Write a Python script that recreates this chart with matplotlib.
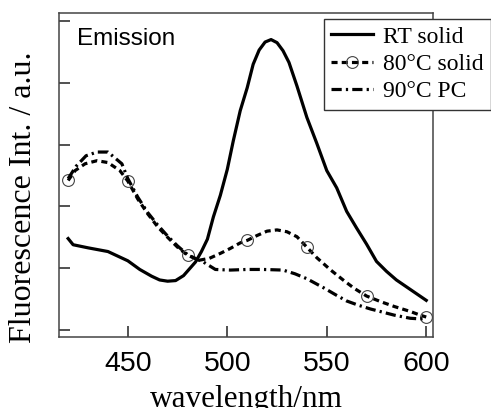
import matplotlib
matplotlib.use("Agg")
import matplotlib.pyplot as plt
import numpy as np

# --- data ---
x_rt = [420, 422.5, 430, 440, 450, 456, 462, 466, 470, 474, 478, 481, 484, 487, 490, 493,
        496.5, 500, 503, 506.5, 510, 513, 516, 519, 522, 525, 528, 531, 535, 540, 545, 550,
        555, 560, 565, 570, 575, 580, 585, 590, 595, 600]
y_rt = [1.48, 1.38, 1.33, 1.27, 1.12, 0.98, 0.87, 0.81, 0.79, 0.80, 0.88, 0.99, 1.10, 1.27,
        1.47, 1.83, 2.18, 2.60, 3.06, 3.55, 3.92, 4.30, 4.53, 4.66, 4.70, 4.65, 4.52, 4.33,
        3.95, 3.44, 3.02, 2.58, 2.30, 1.92, 1.65, 1.39, 1.11, 0.95, 0.81, 0.70, 0.59, 0.48]

x_80 = [420, 423.5, 428.5, 434.5, 440, 446, 450, 455, 460, 465, 470, 475, 480, 486, 491,
        496.5, 501.5, 506.5, 510, 515, 520, 525, 530, 535, 540, 545, 552, 559, 564, 570,
        577, 584, 592, 597, 600]
y_80 = [2.42, 2.58, 2.69, 2.74, 2.71, 2.58, 2.41, 2.12, 1.88, 1.67, 1.50, 1.34, 1.21, 1.13,
        1.16, 1.24, 1.32, 1.41, 1.45, 1.53, 1.60, 1.62, 1.59, 1.51, 1.34, 1.17, 0.97, 0.79,
        0.67, 0.55, 0.46, 0.38, 0.30, 0.24, 0.21]
mark_80 = [420, 450, 480, 510, 540, 570, 600]

x_90 = [420, 424, 429, 434.5, 440, 447, 450, 455, 460, 465, 470, 475, 480, 485, 488, 494,
        501.5, 510, 518, 528, 534, 540, 548.6, 555, 560, 566, 572, 578, 584, 592, 597, 600]
y_90 = [2.45, 2.65, 2.82, 2.88, 2.88, 2.69, 2.45, 2.15, 1.90, 1.70, 1.52, 1.36, 1.22, 1.14,
        1.10, 0.98, 0.97, 0.98, 0.98, 0.97, 0.91, 0.83, 0.68, 0.56, 0.47, 0.40, 0.34, 0.29,
        0.24, 0.19, 0.18, 0.19]

labels = ["RT solid", "80°C solid", "90°C PC"]
xticks = [450, 500, 550, 600]
yticks = [0, 1, 2, 3, 4, 5]

fig = plt.figure(figsize=(4.91, 4.08), dpi=100)
ax = fig.add_axes([59/491, 1-337/408, (433-59)/491, (337-13)/408])

ax.plot(x_rt, y_rt, color="black", lw=2.3, solid_joinstyle="round", label=labels[0])
mevery = [i for i, v in enumerate(x_80) if v in mark_80]
ax.plot(x_80, y_80, color="black", lw=2.3, dashes=(1.9, 1.3), marker="o", markevery=mevery,
        markersize=8.5, markerfacecolor="none", markeredgecolor="#444444",
        markeredgewidth=0.8, label=labels[1])
ax.plot(x_90, y_90, color="black", lw=2.3, dashes=(3.2, 1.3, 0.7, 1.3), label=labels[2])

ax.set_xlim(415.4, 603.4)
ax.set_ylim(-0.113, 5.13)
ax.set_xticks(xticks)
ax.set_xticklabels([str(t) for t in xticks], fontfamily="Liberation Sans", fontsize=20.5)
ax.set_yticks(yticks)
ax.set_yticklabels([])
ax.tick_params(axis="both", direction="in", length=8, width=1.1, color="#222222")
ax.tick_params(axis="x", pad=10)
for s in ax.spines.values():
    s.set_color("#444444")
    s.set_linewidth(1.1)

ax.set_xlabel("wavelength/nm", fontfamily="Liberation Serif", fontsize=22.5, labelpad=6)
ax.set_ylabel("Fluorescence Int. / a.u.", fontfamily="Liberation Serif", fontsize=23)
ax.yaxis.set_label_coords(-0.055, 0.43)

ax.text(0.047, 0.92, "Emission", transform=ax.transAxes, fontfamily="Liberation Sans",
        fontsize=17.5, ha="left", va="center")

leg = ax.legend(loc="upper right", bbox_to_anchor=(491/491, 1-19/408),
                bbox_transform=fig.transFigure, prop={"family": "Liberation Serif", "size": 17},
                frameon=True, fancybox=False, framealpha=1, edgecolor="#333333",
                handlelength=1.75, handletextpad=0.45, borderpad=0.3, labelspacing=0.25,
                borderaxespad=0, numpoints=1)
leg.get_frame().set_linewidth(1.0)

fig.savefig("out.png", dpi=100)
